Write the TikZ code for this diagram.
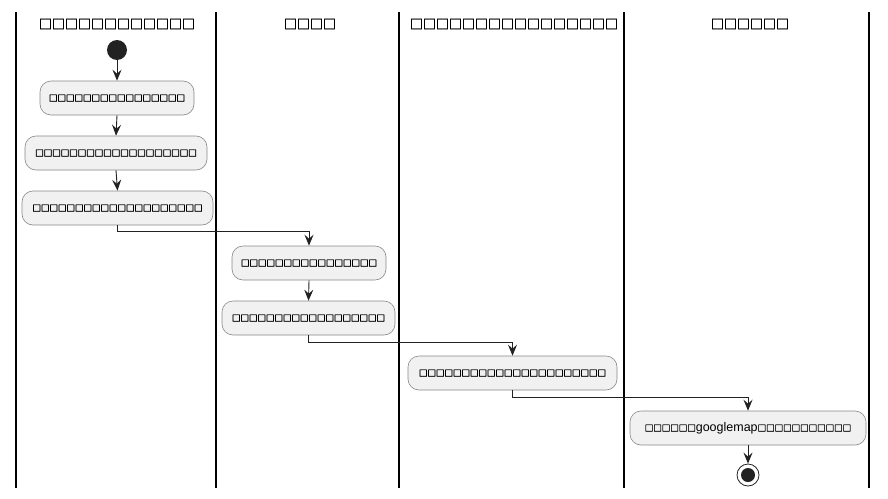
\documentclass[tikz,border=0pt]{standalone}
\usepackage{fontspec}
\setmainfont{Liberation Sans}
\newfontfamily\cjk[FakeBold=2.5]{Noto Sans CJK JP}
\newfontfamily\cjkh[FakeBold=2]{Noto Sans CJK JP}
\newfontfamily\lat{Liberation Sans}
\usetikzlibrary{arrows.meta}
\definecolor{boxfill}{HTML}{F1F1F1}
\definecolor{boxline}{HTML}{888888}
\definecolor{dotc}{HTML}{222222}
\tikzset{
 act/.style={draw=boxline, fill=boxfill, rounded corners=11pt, minimum height=34pt, inner sep=0pt, font=\cjk\fontsize{8.5}{10}\selectfont, line width=0.6pt},
 lane/.style={line width=1.5pt, draw=black},
 hdr/.style={font=\cjkh\fontsize{13}{15}\selectfont, inner sep=0pt},
 flow/.style={line width=0.9pt, draw=dotc, -{Stealth[length=11pt,width=9pt,inset=4pt]}},
}
\begin{document}
\begin{tikzpicture}[x=1pt,y=-1pt]
\useasboundingbox (0,0) rectangle (888,498);
\fill[white] (0,0) rectangle (888,498);
% lanes
\foreach \x in {16,216,399,624,869} \draw[lane] (\x,12) -- (\x,488);
\node[hdr] (h1) at (117,24) {□□□□□□□□□□□□};
\node[hdr] (h2) at (310,24) {□□□□};
\node[hdr] (h3) at (514,24) {□□□□□□□□□□□□□□□□};
\node[hdr] (h4) at (750,24) {□□□□□□};
% start
\node[circle, fill=dotc, minimum size=20pt, inner sep=0pt] (start) at (117,50) {};
\node[act, minimum width=154pt] (b1) at (117,98) {□□□□□□□□□□□□□□□□};
\node[act, minimum width=182pt] (b2) at (116,153) {□□□□□□□□□□□□□□□□□□□};
\node[act, minimum width=191pt] (b3) at (117.5,208) {□□□□□□□□□□□□□□□□□□□□};
\node[act, minimum width=154pt] (b4) at (309,263) {□□□□□□□□□□□□□□□□};
\node[act, minimum width=173pt] (b5) at (308.5,318) {□□□□□□□□□□□□□□□□□□};
\node[act, minimum width=209pt] (b6) at (512.5,373) {□□□□□□□□□□□□□□□□□□□□□□};
\node[act, minimum width=236pt] (b7) at (748,428) {□□□□□□{\lat\fontsize{12.5}{14}\selectfont googlemap}□□□□□□□□□□□};
\node[circle, draw=dotc, line width=0.8pt, fill=white, minimum size=22pt, inner sep=0pt] (stop) at (748,475) {};
\node[circle, fill=dotc, minimum size=14pt, inner sep=0pt] (stopin) at (stop.center) {};
% flows
\draw[flow] (start.south) -- (b1.north);
\draw[flow] (b1.south) -- (b2.north);
\draw[flow] (b2.south) -- (b3.north);
\draw[flow] (b3.south) -- ++(0,6) -| (b4.north);
\draw[flow] (b4.south) -- (b5.north);
\draw[flow] (b5.south) -- ++(0,7) -| (b6.north);
\draw[flow] (b6.south) -- ++(0,7) -| (b7.north);
\draw[flow] (b7.south) -- (stop.north);
\end{tikzpicture}
\end{document}
